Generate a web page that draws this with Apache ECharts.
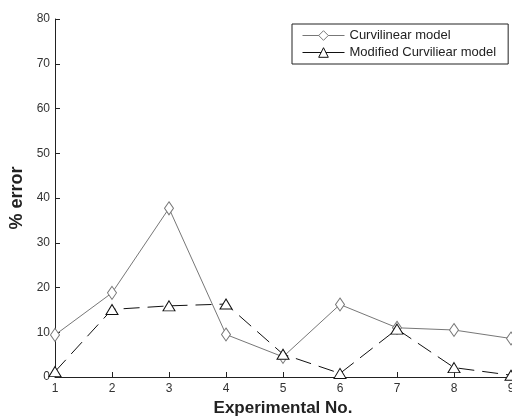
<!DOCTYPE html>
<html><head><meta charset="utf-8">
<script src="https://cdn.jsdelivr.net/npm/echarts@6/dist/echarts.min.js"></script>
<style>html,body{margin:0;padding:0;background:#fff}#c{width:512px;height:418px}</style>
</head><body><div id="c"></div>
<script>
const experiments = [1,2,3,4,5,6,7,8,9];
const curvilinear = [9.4,18.8,37.7,9.5,4.5,16.2,11.0,10.5,8.6];
const modified = [1.2,15.1,15.9,16.3,5.1,0.8,10.7,2.1,0.4];
const yTicks = [0,10,20,30,40,50,60,70,80];

const chart = echarts.init(document.getElementById('c'));
const font = 'Liberation Sans, Arial, sans-serif';
chart.setOption({
  animation:false,
  backgroundColor:'#fff',
  grid:{left:55,right:1,top:19,bottom:41,containLabel:false,outerBoundsMode:'none'},
  legend:{
    orient:'vertical', left:292, top:24,
    backgroundColor:'#fff', borderColor:'#222', borderWidth:1,
    padding:[5,12,5,10], itemGap:4, itemWidth:42, itemHeight:12,
    textStyle:{fontFamily:font,fontSize:13,color:'#222'},
    data:[
      {name:'Curvilinear model', itemStyle:{color:'#fff',borderColor:'#777',borderWidth:1}, lineStyle:{color:'#777',type:'solid',width:1}},
      {name:'Modified Curviliear model', itemStyle:{color:'#fff',borderColor:'#111',borderWidth:1}, lineStyle:{color:'#111',type:'solid',width:1}}
    ]
  },
  xAxis:{
    type:'value', min:1, max:9, interval:1,
    name:'Experimental No.', nameLocation:'middle', nameGap:23,
    nameTextStyle:{fontFamily:font,fontSize:17,fontWeight:'bold',color:'#222'},
    axisLine:{show:true,lineStyle:{color:'#222',width:1}},
    axisTick:{show:true,inside:true,length:5,lineStyle:{color:'#222'}},
    axisLabel:{fontFamily:font,fontSize:12,color:'#333',margin:6},
    splitLine:{show:false}
  },
  yAxis:{
    type:'value', min:0, max:80, interval:10,
    name:'% error', nameLocation:'middle', nameGap:28,
    nameTextStyle:{fontFamily:font,fontSize:18,fontWeight:'bold',color:'#222'},
    axisLine:{show:true,lineStyle:{color:'#222',width:1}},
    axisTick:{show:true,inside:true,length:5,lineStyle:{color:'#222'}},
    axisLabel:{fontFamily:font,fontSize:12,color:'#333',margin:5,
      formatter:v=>yTicks.includes(v)?String(v):''},
    splitLine:{show:false}
  },
  series:[
    {name:'Curvilinear model', type:'line',
     data:experiments.map((x,i)=>[x,curvilinear[i]]),
     symbol:'diamond', symbolSize:[9,13], showAllSymbol:true,
     lineStyle:{color:'#777',width:1},
     itemStyle:{color:'#fff',borderColor:'#777',borderWidth:1}},
    {name:'Modified Curviliear model', type:'line',
     data:experiments.map((x,i)=>[x,modified[i]]),
     symbol:'triangle', symbolSize:[12,10], showAllSymbol:true,
     lineStyle:{color:'#111',width:1,type:[16,8]},
     itemStyle:{color:'#fff',borderColor:'#111',borderWidth:1}}
  ]
});
</script></body></html>
